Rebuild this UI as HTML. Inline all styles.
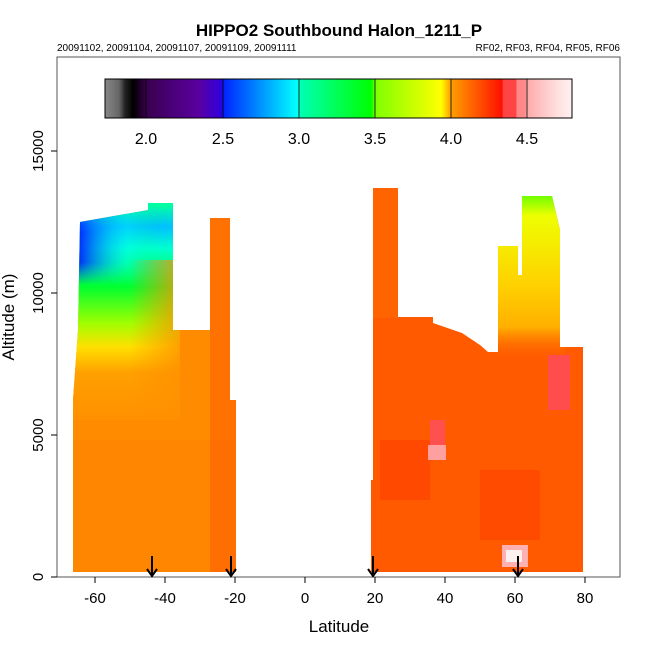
<!DOCTYPE html>
<html><head><meta charset="utf-8"><style>
html,body{margin:0;padding:0;background:#fff;}
svg{display:block;font-family:"Liberation Sans",sans-serif;}
</style></head><body>
<svg width="650" height="650" viewBox="0 0 650 650">
<defs>
<linearGradient id="cb" x1="0" x2="1" y1="0" y2="0">
<stop offset="0" stop-color="#888"/><stop offset="0.03" stop-color="#666"/>
<stop offset="0.043" stop-color="#222"/><stop offset="0.06" stop-color="#000"/>
<stop offset="0.09" stop-color="#3a0050"/><stop offset="0.2" stop-color="#5a00a0"/>
<stop offset="0.25" stop-color="#3000e0"/><stop offset="0.252" stop-color="#0020ff"/>
<stop offset="0.41" stop-color="#00ffff"/><stop offset="0.42" stop-color="#00ffb0"/>
<stop offset="0.57" stop-color="#00ff00"/><stop offset="0.58" stop-color="#80ff00"/>
<stop offset="0.72" stop-color="#ffff00"/><stop offset="0.74" stop-color="#ffa000"/>
<stop offset="0.85" stop-color="#ff1000"/><stop offset="0.853" stop-color="#ff4444"/>
<stop offset="0.88" stop-color="#ff4444"/><stop offset="0.882" stop-color="#ff8888"/>
<stop offset="0.9" stop-color="#ff8888"/><stop offset="0.902" stop-color="#ffa8a8"/>
<stop offset="0.94" stop-color="#ffc8c8"/><stop offset="0.97" stop-color="#ffe0e0"/>
<stop offset="1" stop-color="#fff0f0"/>
</linearGradient>
<linearGradient id="leftg" gradientUnits="userSpaceOnUse" x1="0" y1="205" x2="0" y2="420">
<stop offset="0" stop-color="#00ffa0"/><stop offset="0.1" stop-color="#00c0ff"/>
<stop offset="0.2" stop-color="#00ffd0"/><stop offset="0.38" stop-color="#00ff30"/>
<stop offset="0.55" stop-color="#a0ff00"/><stop offset="0.66" stop-color="#ffe000"/>
<stop offset="0.78" stop-color="#ffa000"/><stop offset="1" stop-color="#ff9000"/>
</linearGradient>
<linearGradient id="bluel" gradientUnits="userSpaceOnUse" x1="80" y1="0" x2="160" y2="0">
<stop offset="0" stop-color="#0020ff" stop-opacity="0.9"/><stop offset="0.6" stop-color="#00ffff" stop-opacity="0.3"/><stop offset="1" stop-color="#00ff80" stop-opacity="0"/>
</linearGradient>
<linearGradient id="bluev" x1="0" y1="0" x2="0" y2="1">
<stop offset="0" stop-color="#fff" stop-opacity="0.6"/><stop offset="0.3" stop-color="#fff"/><stop offset="0.7" stop-color="#fff"/><stop offset="1" stop-color="#fff" stop-opacity="0"/>
</linearGradient>
<mask id="bm"><rect x="60" y="210" width="120" height="75" fill="url(#bluev)"/></mask>
<linearGradient id="rightfade" gradientUnits="userSpaceOnUse" x1="130" y1="0" x2="180" y2="0">
<stop offset="0" stop-color="#ff9000" stop-opacity="0"/><stop offset="1" stop-color="#ff9000" stop-opacity="0.8"/>
</linearGradient>
<linearGradient id="yt" gradientUnits="userSpaceOnUse" x1="0" y1="196" x2="0" y2="360">
<stop offset="0" stop-color="#70ff00"/><stop offset="0.12" stop-color="#eeff00"/>
<stop offset="0.55" stop-color="#ffd000"/><stop offset="0.8" stop-color="#ffb000"/><stop offset="1" stop-color="#ff6000" stop-opacity="0"/>
</linearGradient>
<clipPath id="lc"><path d="M73,572 L73,400 L78,330 L80,222 L148,210 L148,203 L173,203 L173,330 L210,330 L210,218 L230,218 L230,400 L236,400 L236,572 Z"/></clipPath>
<clipPath id="rc"><path d="M371,572 L371,480 L373,480 L373,188 L398,188 L398,317 L433,317 L433,323 L462,333 L480,345 L488,352 L498,352 L498,246 L518,246 L518,275 L522,275 L522,196 L552,196 L560,230 L560,347 L583,347 L583,572 Z"/></clipPath>
</defs>
<rect width="650" height="650" fill="#fff"/>
<g clip-path="url(#lc)">
<rect x="60" y="190" width="180" height="390" fill="#ff8c00"/>
<rect x="60" y="190" width="120" height="230" fill="url(#leftg)"/>
<rect x="60" y="210" width="120" height="75" fill="url(#bluel)" mask="url(#bm)"/>
<rect x="130" y="260" width="50" height="160" fill="url(#rightfade)"/>
<rect x="73" y="440" width="163" height="132" fill="#ff7a00" opacity="0.35"/>
<rect x="210" y="210" width="30" height="370" fill="#ff5500" opacity="0.5"/>
</g>
<g clip-path="url(#rc)">
<rect x="365" y="180" width="225" height="400" fill="#ff5a00"/>
<rect x="495" y="190" width="70" height="175" fill="url(#yt)"/>
<rect x="373" y="188" width="25" height="130" fill="#ff6a00" opacity="0.6"/>
<rect x="380" y="440" width="50" height="60" fill="#ff2000" opacity="0.3"/>
<rect x="480" y="470" width="60" height="70" fill="#ff2000" opacity="0.25"/>
<rect x="430" y="420" width="15" height="40" fill="#ff5050"/>
<rect x="428" y="445" width="18" height="15" fill="#ffa0a0"/>
<rect x="548" y="355" width="22" height="55" fill="#ff4d4d"/>
<rect x="502" y="545" width="26" height="22" fill="#ffb0b0"/>
<rect x="506" y="550" width="16" height="12" fill="#fff0f0"/>
</g>
<rect x="105" y="79" width="467" height="39" fill="url(#cb)" stroke="#000" stroke-width="1"/>
<g stroke="#000" stroke-width="0.8">
<line x1="146" y1="79" x2="146" y2="118"/><line x1="223" y1="79" x2="223" y2="118"/>
<line x1="299" y1="79" x2="299" y2="118"/><line x1="375" y1="79" x2="375" y2="118"/>
<line x1="451" y1="79" x2="451" y2="118"/><line x1="527" y1="79" x2="527" y2="118"/>
</g>
<g font-size="16" text-anchor="middle">
<text x="146" y="144">2.0</text><text x="223" y="144">2.5</text><text x="299" y="144">3.0</text>
<text x="375" y="144">3.5</text><text x="451" y="144">4.0</text><text x="527" y="144">4.5</text>
</g>
<rect x="57" y="57" width="563" height="520" fill="none" stroke="#555" stroke-width="1"/>
<g stroke="#000" stroke-width="2" fill="none">
<path d="M152,556 V576 M147,569 L152,576 L157,569"/>
<path d="M231,556 V576 M226,569 L231,576 L236,569"/>
<path d="M373,556 V576 M368,569 L373,576 L378,569"/>
<path d="M518,556 V576 M513,569 L518,576 L523,569"/>
</g>
<g stroke="#000" stroke-width="1">
<line x1="95" y1="577" x2="95" y2="583"/><line x1="165" y1="577" x2="165" y2="583"/>
<line x1="235" y1="577" x2="235" y2="583"/><line x1="305" y1="577" x2="305" y2="583"/>
<line x1="375" y1="577" x2="375" y2="583"/><line x1="445" y1="577" x2="445" y2="583"/>
<line x1="515" y1="577" x2="515" y2="583"/><line x1="585" y1="577" x2="585" y2="583"/>
<line x1="51" y1="577" x2="57" y2="577"/><line x1="51" y1="435" x2="57" y2="435"/>
<line x1="51" y1="293" x2="57" y2="293"/><line x1="51" y1="151" x2="57" y2="151"/>
</g>
<g font-size="15" text-anchor="middle">
<text x="95" y="603">-60</text><text x="165" y="603">-40</text><text x="235" y="603">-20</text>
<text x="305" y="603">0</text><text x="375" y="603">20</text><text x="445" y="603">40</text>
<text x="515" y="603">60</text><text x="585" y="603">80</text>
<text transform="translate(43,577) rotate(-90)">0</text>
<text transform="translate(43,435) rotate(-90)">5000</text>
<text transform="translate(43,293) rotate(-90)">10000</text>
<text transform="translate(43,151) rotate(-90)">15000</text>
</g>
<text x="339" y="632" font-size="17" text-anchor="middle">Latitude</text>
<text transform="translate(14,317) rotate(-90)" font-size="17" text-anchor="middle">Altitude (m)</text>
<text x="339" y="36" font-size="17" font-weight="bold" text-anchor="middle">HIPPO2 Southbound Halon_1211_P</text>
<text x="57" y="51" font-size="10">20091102, 20091104, 20091107, 20091109, 20091111</text>
<text x="620" y="51" font-size="10" text-anchor="end">RF02, RF03, RF04, RF05, RF06</text>
</svg>
</body></html>
